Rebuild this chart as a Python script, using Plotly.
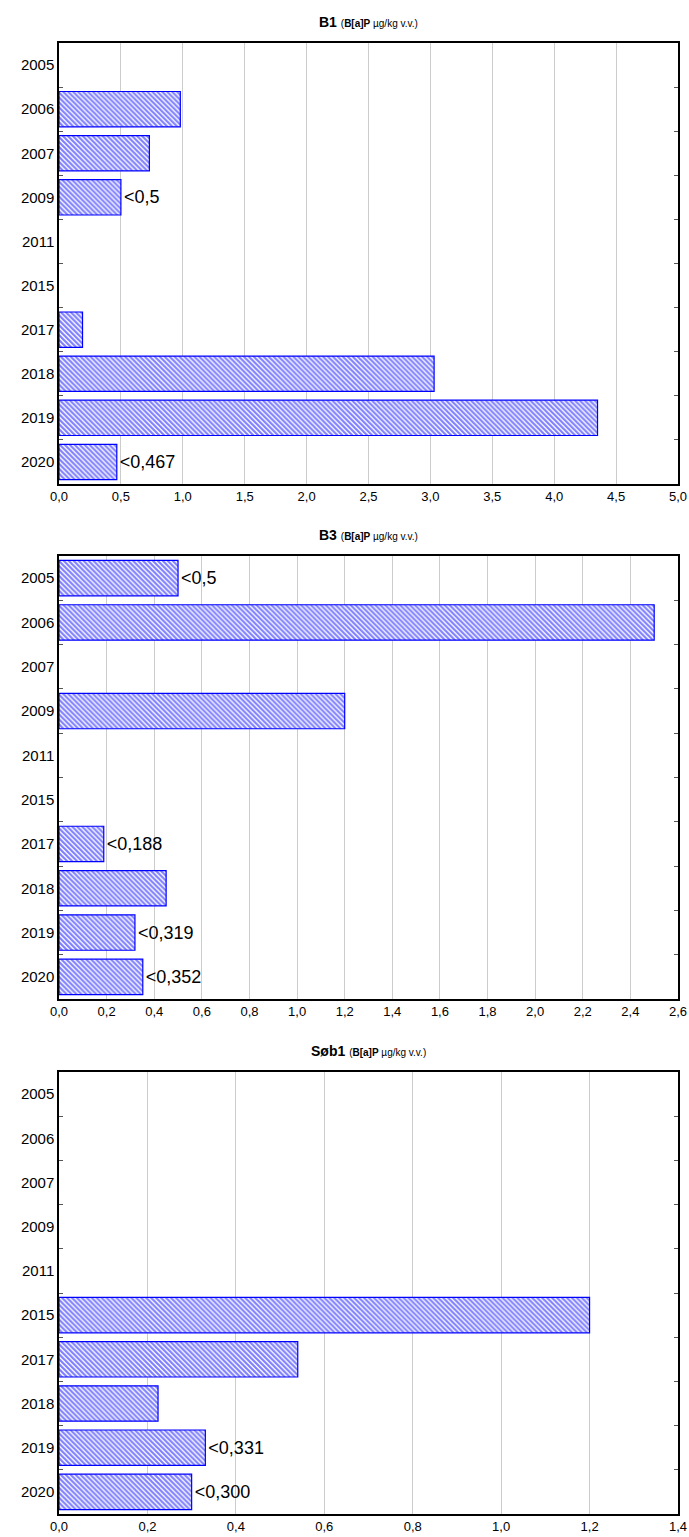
import plotly.graph_objects as go
from plotly.subplots import make_subplots

years = ["2005", "2006", "2007", "2009", "2011", "2015", "2017", "2018", "2019", "2020"]

b1_values = [None, 0.98, 0.73, 0.5, None, None, 0.19, 3.03, 4.35, 0.467]
b1_labels = ["", "", "", "<0,5", "", "", "", "", "", "<0,467"]

b3_values = [0.5, 2.50, None, 1.20, None, None, 0.188, 0.45, 0.319, 0.352]
b3_labels = ["<0,5", "", "", "", "", "", "<0,188", "", "<0,319", "<0,352"]

sob1_values = [None, None, None, None, None, 1.20, 0.54, 0.224, 0.331, 0.300]
sob1_labels = ["", "", "", "", "", "", "", "", "<0,331", "<0,300"]

panels = [
    ("B1", b1_values, b1_labels, 5.0, 0.5),
    ("B3", b3_values, b3_labels, 2.6, 0.2),
    ("Søb1", sob1_values, sob1_labels, 1.4, 0.2),
]

W, H = 689, 1537
# plot areas in pixels (top, bottom)
areas = [(43, 484), (556, 999), (1072, 1514)]

fig = make_subplots(rows=3, cols=1)

BLUE = "#0000ff"
FONT = "Liberation Sans, Arial, sans-serif"

for i, (name, vals, labels, xmax, dtick) in enumerate(panels):
    r = i + 1
    fig.add_trace(
        go.Bar(
            y=years,
            x=vals,
            orientation="h",
            text=labels,
            textposition="outside",
            constraintext="none",
            cliponaxis=False,
            textfont=dict(family=FONT, size=18, color="black"),
            marker=dict(
                color="white",
                line=dict(color=BLUE, width=1.2),
                pattern=dict(shape="\\", fgcolor=BLUE, bgcolor="white",
                             size=3.5, solidity=0.62, fillmode="overlay"),
            ),
            hoverinfo="x+y",
            showlegend=False,
        ),
        row=r, col=1,
    )
    top, bot = areas[i]
    ydom = [1 - bot / H, 1 - top / H]
    yname = "yaxis" if r == 1 else f"yaxis{r}"
    xname = "xaxis" if r == 1 else f"xaxis{r}"
    fig.layout[yname].update(
        domain=ydom,
        type="category",
        categoryorder="array",
        categoryarray=years,
        autorange="reversed",
        tickson="boundaries",
        ticks="inside",
        ticklen=4,
        tickcolor="#555555",
        showline=True,
        linecolor="black",
        linewidth=1.5,
        mirror="ticks",
        showgrid=False,
        tickfont=dict(family=FONT, size=15, color="black"),
        fixedrange=True,
    )
    fig.layout[xname].update(
        domain=[0, 1],
        range=[0, xmax],
        dtick=dtick,
        tick0=0,
        tickformat=".1f",
        showline=True,
        linecolor="black",
        linewidth=1.5,
        mirror=True,
        showgrid=True,
        gridcolor="#cccccc",
        gridwidth=1,
        zeroline=False,
        ticks="",
        tickfont=dict(family=FONT, size=13, color="black"),
        fixedrange=True,
    )
    fig.add_annotation(
        xref="paper", yref="paper",
        x=0.5, y=1 - (top - 21) / H,
        text=f"<b>{name}</b> <span style='font-size:10px'>(<b>B[a]P</b> µg/kg v.v.)</span>",
        showarrow=False,
        font=dict(family=FONT, size=14, color="black"),
        xanchor="center", yanchor="middle",
    )

fig.update_layout(
    width=W, height=H,
    margin=dict(l=59, r=11, t=0, b=0),
    plot_bgcolor="white",
    paper_bgcolor="white",
    bargap=0.2,
    separators=", ",
)

fig.write_html(
    "out.html",
    config={"displayModeBar": False},
    post_script="document.body.style.margin='0';document.body.style.overflow='hidden';",
)
